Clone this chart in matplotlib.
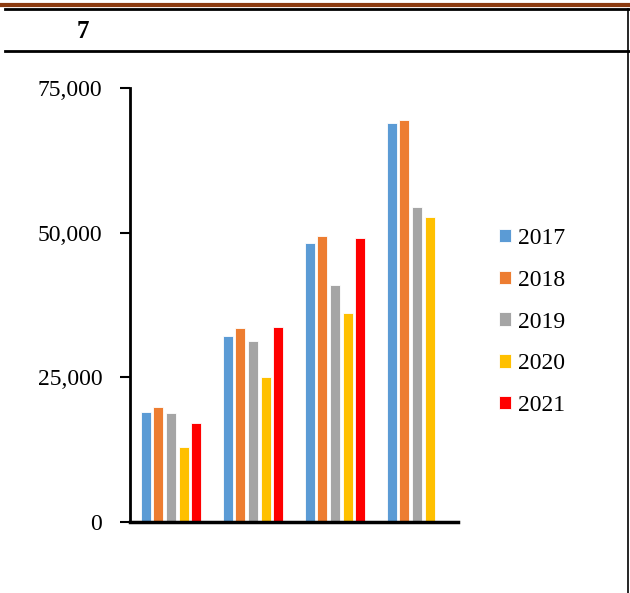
import numpy as np
import matplotlib
matplotlib.use('Agg')
import matplotlib.pyplot as plt
from matplotlib.lines import Line2D

# data
groups = ["", "", "", ""]
years = ["2017", "2018", "2019", "2020", "2021"]
v2017 = [19000, 32100, 48200, 68900]
v2018 = [19900, 33500, 49500, 69400]
v2019 = [18800, 31300, 41000, 54400]
v2020 = [13000, 25100, 36100, 52700]
v2021 = [17100, 33700, 49100, np.nan]
series = [v2017, v2018, v2019, v2020, v2021]
bar_colors = ["#5B9BD5", "#ED7D31", "#A5A5A5", "#FFC000", "#FF0000"]
yticks = [0, 25000, 50000, 75000]

plt.rcParams['font.family'] = ['Liberation Serif', 'DejaVu Serif']

fig = plt.figure(figsize=(6.3, 5.93), dpi=100)
ax = fig.add_axes([130/630, 1 - 522/593, 328/630, 434/593])

x = np.arange(len(groups))
pitch = 0.154
for i, (vals, col, yr) in enumerate(zip(series, bar_colors, years)):
    ax.bar(x + (i - 2) * pitch, vals, width=0.125, color=col,
           edgecolor='white', linewidth=0.6, label=yr)

ax.set_xlim(-0.5, 3.5)
ax.set_ylim(0, 75000)
ax.set_yticks(yticks)
ax.set_yticklabels([f"{t:,}" for t in yticks], fontsize=17)
ax.set_xticks([])
ax.tick_params(axis='y', direction='out', length=7, width=1.5, pad=13)
for s in ['top', 'right']:
    ax.spines[s].set_visible(False)
ax.spines['left'].set_linewidth(2)
ax.spines['bottom'].set_linewidth(2.5)

fig.legend(loc='upper left', bbox_to_anchor=(499/630, 1 - 228/593),
           frameon=False, fontsize=17, handlelength=0.5, handleheight=0.5,
           handletextpad=0.3, labelspacing=0.88, borderaxespad=0, borderpad=0)

# table-style header above the chart
fig.add_artist(Line2D([0, 1], [1 - 5/593, 1 - 5/593], color='#8B3A0F', lw=3))
fig.add_artist(Line2D([5/630, 1], [1 - 9/593, 1 - 9/593], color='black', lw=2))
fig.add_artist(Line2D([5/630, 1], [1 - 51/593, 1 - 51/593], color='black', lw=2))
fig.add_artist(Line2D([628/630, 628/630], [0, 1 - 9/593], color='black', lw=1.2))
fig.text(83/630, 1 - 31/593, "7", fontsize=18, fontweight='bold',
         family='Liberation Serif', ha='center', va='center')

fig.savefig("out.png", dpi=100)
